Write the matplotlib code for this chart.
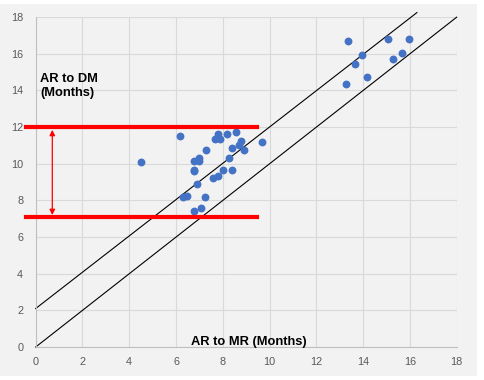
import numpy as np
import matplotlib
matplotlib.use("Agg")
import matplotlib.pyplot as plt
from matplotlib.patches import Rectangle

plt.rcParams['font.family'] = ['Liberation Sans', 'DejaVu Sans']

# AR to MR (x) vs AR to DM (y), months
ar_mr = [4.52, 6.18, 6.78, 6.99, 6.99, 6.78, 6.78, 6.91, 6.30, 6.48,
         6.78, 7.08, 7.22, 7.30, 7.59, 7.81, 7.67, 7.81, 7.88, 7.99,
         8.19, 8.28, 8.41, 8.41, 8.58, 8.71, 8.79, 8.89, 9.69,
         13.36, 15.07, 15.97, 13.96, 13.66, 15.67, 15.29, 14.18, 13.28]
ar_dm = [10.07, 11.54, 10.17, 10.32, 10.14, 9.68, 9.59, 8.88, 8.16, 8.25,
         7.41, 7.56, 8.16, 10.77, 9.25, 9.34, 11.37, 11.65, 11.37, 9.68,
         11.65, 10.34, 10.88, 9.68, 11.75, 11.05, 11.26, 10.77, 11.17,
         16.71, 16.82, 16.82, 15.95, 15.44, 16.06, 15.73, 14.75, 14.37]

# reference lines
diag_x = [0, 18]
diag_y = [0, 18]
upper_x = [0, 16.3]
upper_y = [2.1, 18.25]

# red range markers
range_x = [-0.4, 9.45]
range_top = 12.0
range_bottom = 7.1
arrow_x = 0.71

ticks = list(range(0, 19, 2))

fig = plt.figure(figsize=(4.85, 3.8), dpi=100)
fig.patch.set_facecolor('white')
fig.add_artist(Rectangle((0, 4 / 380), 477 / 485, 1 - 8 / 380,
                         transform=fig.transFigure, facecolor='#F2F2F2',
                         edgecolor='none', zorder=0))

ax = fig.add_axes([0.0736, 0.0868, 0.868, 0.868])
ax.set_facecolor('#F2F2F2')
ax.set_xlim(0, 18)
ax.set_ylim(0, 18)
ax.set_xticks(ticks)
ax.set_yticks(ticks)
ax.grid(True, color='#D9D9D9', lw=0.8)
ax.set_axisbelow(True)
for s in ['top', 'right']:
    ax.spines[s].set_visible(False)
for s in ['left', 'bottom']:
    ax.spines[s].set_color('#BFBFBF')
    ax.spines[s].set_linewidth(0.8)
ax.tick_params(length=0, labelsize=7.8, labelcolor='#595959')
ax.tick_params(axis='x', pad=7)
ax.tick_params(axis='y', pad=9)

ax.plot(diag_x, diag_y, color='black', lw=0.8, clip_on=False, zorder=2)
ax.plot(upper_x, upper_y, color='black', lw=0.8, clip_on=False, zorder=2)

ax.scatter(ar_mr, ar_dm, s=32, color='#4472C4', zorder=3, linewidths=0)

ax.plot(range_x, [range_top, range_top], color='#FF0000', lw=3, clip_on=False, zorder=4)
ax.plot(range_x, [range_bottom, range_bottom], color='#FF0000', lw=3, clip_on=False, zorder=4)
ax.annotate('', xy=(arrow_x, range_top - 0.15), xytext=(arrow_x, range_bottom + 0.1),
            arrowprops=dict(arrowstyle='<|-|>', color='#FF0000', lw=0.9,
                            mutation_scale=8, shrinkA=0, shrinkB=0))

ax.text(0.18, 14.25, 'AR to DM\n(Months)', fontsize=9.3, fontweight='bold',
        ha='left', va='center', linespacing=1.3)
ax.text(9.13, 0.1, 'AR to MR (Months)', fontsize=9.3, fontweight='bold',
        ha='center', va='baseline')

fig.savefig('out.png', dpi=100, facecolor=fig.get_facecolor())
